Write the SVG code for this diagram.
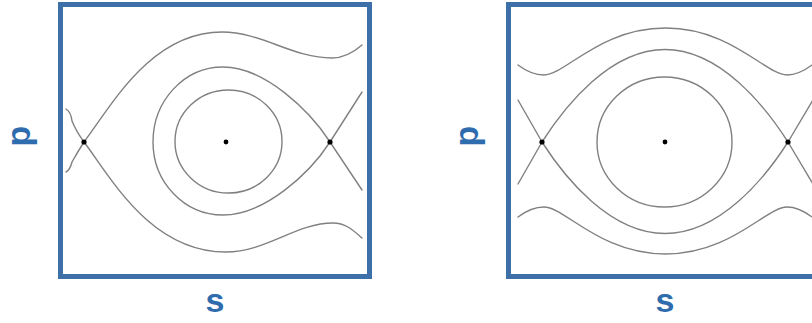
<svg xmlns="http://www.w3.org/2000/svg" width="812" height="323" viewBox="0 0 812 323">
  <style>
    .frame { fill: none; stroke: #3d70a8; stroke-width: 5; }
    .orbit { fill: none; stroke: #808080; stroke-width: 1.4; stroke-linecap: round; }
    .pt { fill: #000000; }
    .lbl { font-family: "Liberation Sans", Arial, sans-serif; font-weight: bold; font-size: 34px; fill: #2f6cae; text-anchor: middle; }
  </style>
  <rect width="812" height="323" fill="#ffffff"/>

  <g id="panel-left">
    <rect class="frame" x="60.5" y="4.5" width="309" height="272"/>
    <!-- outer separatrix branches from left saddle -->
    <path class="orbit" d="M84,142 C110,108 150,32 222,32 C262,32 292,58 332,58 C345,58 354,52 362,45"/>
    <path class="orbit" d="M84,142 C110,176 150,252 226,252 C266,252 296,223 333,223 C346,223 354,231 362,238"/>
    <!-- short stubs on the left -->
    <path class="orbit" d="M66,109 Q71,112 72,121 Q76,131 84,142"/>
    <path class="orbit" d="M84,142 Q77,153 72,162 Q70,170 66,172"/>
    <!-- homoclinic loop at right saddle -->
    <path class="orbit" d="M362,92 L330,142 C310,173 265,215 223,215 C184,215 153,182 153,142 C153,101 184,67 223,67 C265,67 310,111 330,142 L362,190"/>
    <!-- inner closed orbit -->
    <ellipse class="orbit" cx="228.5" cy="141.5" rx="53.5" ry="51.5"/>
    <circle class="pt" cx="84" cy="142" r="2.6"/>
    <circle class="pt" cx="226" cy="142" r="2.4"/>
    <circle class="pt" cx="330" cy="142" r="2.6"/>
    <text class="lbl" transform="translate(30,136) rotate(-90)">p</text>
    <text class="lbl" x="215" y="312">s</text>
  </g>

  <g id="panel-right">
    <rect class="frame" x="508.5" y="4.5" width="313" height="272"/>
    <!-- rotating orbits (wavy) -->
    <path class="orbit" d="M518,65 C526,71 535,75 544,75 C565,75 600,28 665.5,28 C731,28 766,75 787,75 C796,75 804,71 812,65"/>
    <path class="orbit" d="M518,217 C526,211 535,207 544,207 C565,207 600,254 665.5,254 C731,254 766,207 787,207 C796,207 804,211 812,217"/>
    <!-- separatrices -->
    <path class="orbit" d="M518,184 L542,142 C565,106 610,49.5 665,49.5 C720,49.5 765,106 788,142 L813,184"/>
    <path class="orbit" d="M518,100 L542,142 C565,178 610,233.5 665,233.5 C720,233.5 765,178 788,142 L813,100"/>
    <!-- inner closed orbit -->
    <ellipse class="orbit" cx="664.5" cy="142" rx="67.5" ry="65"/>
    <circle class="pt" cx="542" cy="142" r="2.6"/>
    <circle class="pt" cx="665" cy="142" r="2.4"/>
    <circle class="pt" cx="788" cy="142" r="2.6"/>
    <text class="lbl" transform="translate(478,136) rotate(-90)">p</text>
    <text class="lbl" x="665" y="312">s</text>
  </g>
</svg>
